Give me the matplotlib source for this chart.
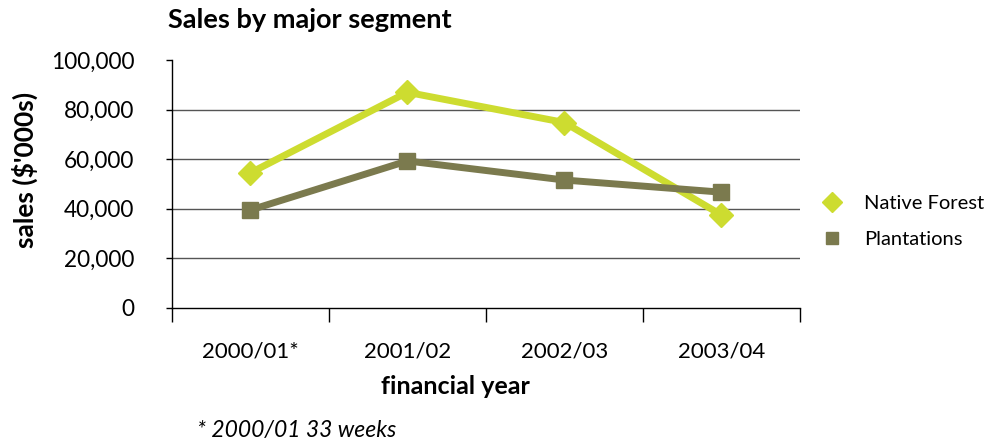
import matplotlib.pyplot as plt

years = ['2000/01*', '2001/02', '2002/03', '2003/04']
native_forest = [54500, 87000, 74800, 37500]
plantations = [39500, 59300, 51600, 46700]
yticks = [0, 20000, 40000, 60000, 80000, 100000]

plt.rcParams['font.family'] = ['Lato', 'DejaVu Sans']

fig = plt.figure(figsize=(10.05, 4.45), dpi=100)
ax = fig.add_axes([0.171, 0.308, 0.625, 0.557])

x = range(len(years))
ax.plot(x, native_forest, color='#cddc30', lw=5, marker='D', ms=12,
        label='Native Forest', zorder=3)
ax.plot(x, plantations, color='#7b7a4e', lw=5, marker='s', ms=11,
        label='Plantations', zorder=4)

ax.set_xlim(-0.5, len(years) - 0.5)
ax.set_ylim(0, 100000)
ax.set_yticks(yticks)
ax.set_yticklabels([f'{v:,}' for v in yticks])
for v in yticks[1:-1]:
    ax.axhline(v, color='#555555', lw=1, zorder=1)

# category ticks sit between the labels
ax.set_xticks([i - 0.5 for i in range(len(years) + 1)])
ax.set_xticklabels([])
ax.set_xticks(list(x), minor=True)
ax.set_xticklabels(years, minor=True)
ax.tick_params(axis='x', which='major', length=10, width=1, color='black')
ax.tick_params(axis='x', which='minor', length=0, pad=24, labelsize=16)
ax.tick_params(axis='y', length=4, width=1, labelsize=16.3, pad=23)

for s in ['top', 'right']:
    ax.spines[s].set_visible(False)
ax.spines['left'].set_linewidth(1)
ax.spines['bottom'].set_linewidth(1)

ax.set_xlabel('financial year', fontsize=18, fontweight='bold')
ax.xaxis.set_label_coords(0.452, -0.315)
ax.xaxis.label.set_va('center')
ax.set_ylabel("sales ($'000s)", fontsize=19, fontweight='bold')
ax.yaxis.set_label_coords(-0.234, 0.556)
ax.yaxis.label.set_va('center')

fig.text(0.167, 0.955, 'Sales by major segment', fontsize=19.5, fontweight='bold',
         va='center', ha='left')
fig.text(0.196, 0.033, '* 2000/01 33 weeks', fontsize=16.5, style='italic',
         va='center', ha='left')

ax.legend(loc='center left', bbox_to_anchor=(1.003, 0.35), frameon=False,
          fontsize=14.5, handlelength=1.2, handletextpad=1.0, labelspacing=0.94,
          markerscale=0.85)
leg = ax.get_legend()
for h in leg.legend_handles:
    h.set_linestyle('none')

fig.savefig('out.png', dpi=100)
